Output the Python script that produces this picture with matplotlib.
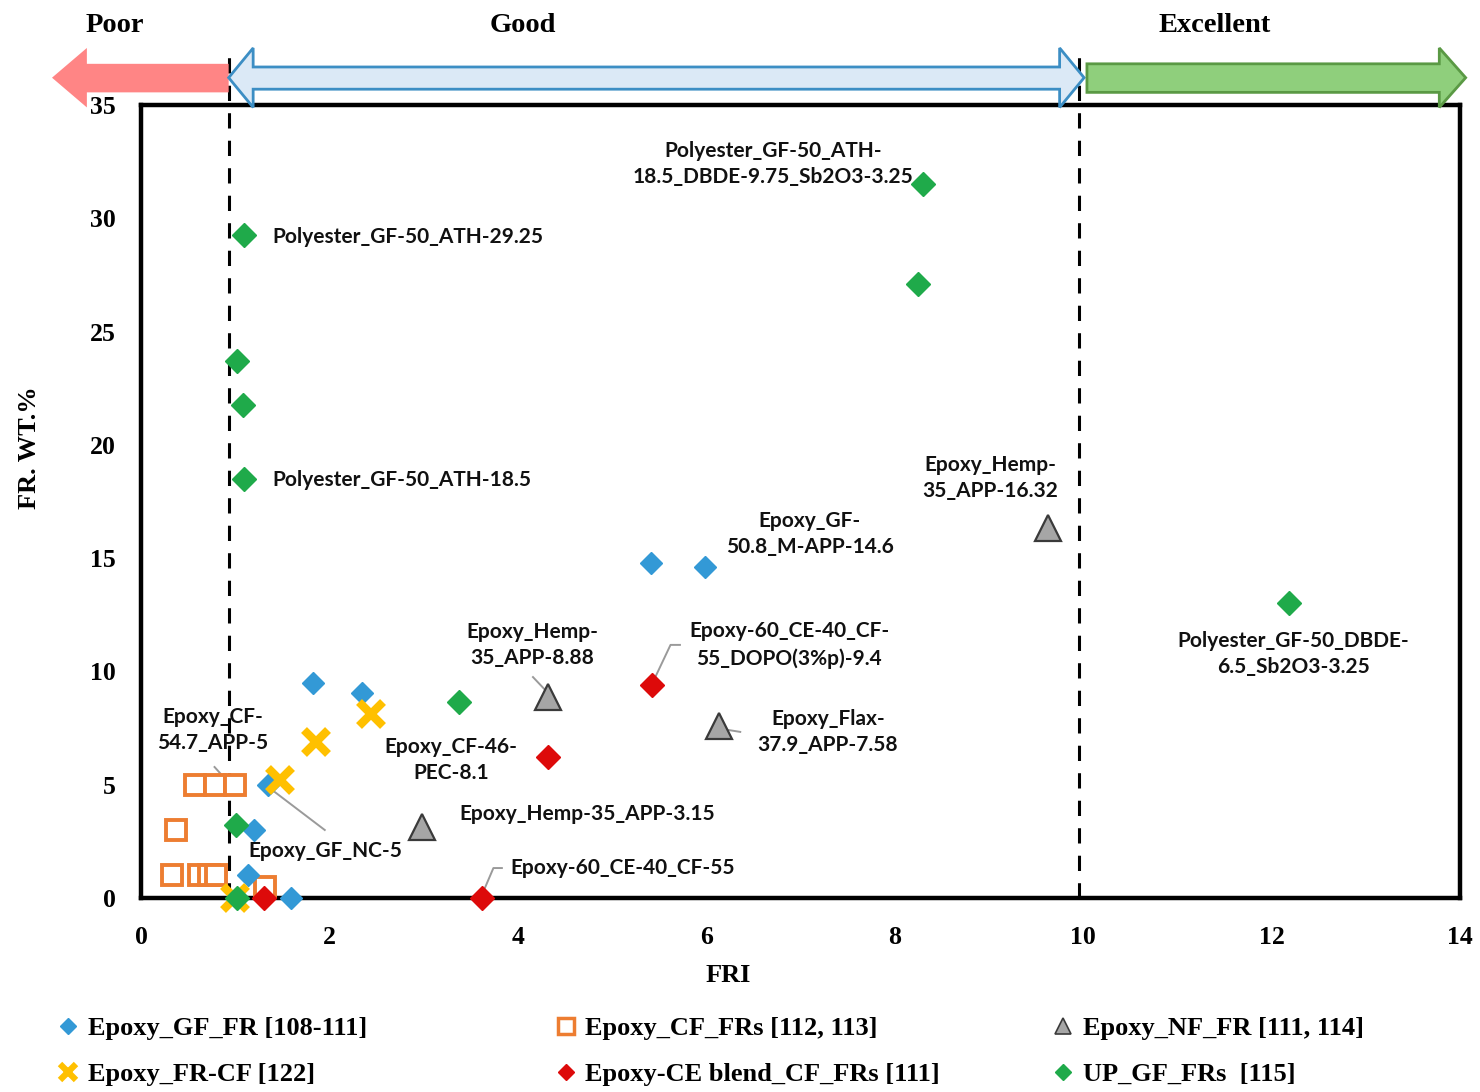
import matplotlib
matplotlib.use("Agg")
import matplotlib.pyplot as plt
from matplotlib.lines import Line2D
from matplotlib.patches import Polygon
import matplotlib.transforms as mtransforms

# ---------------- data ----------------
gf_fr_x = [5.41, 5.99, 1.83, 2.35, 1.35, 1.20, 1.14, 1.59]
gf_fr_y = [14.8, 14.6, 9.5, 9.05, 5.0, 3.0, 1.0, 0.0]

cf_frs_x = [0.57, 0.79, 1.00, 0.37, 0.33, 0.62, 0.72, 0.80, 1.32]
cf_frs_y = [5.0, 5.0, 5.0, 3.0, 1.0, 1.0, 1.0, 1.0, 0.5]

nf_fr_x = [9.63, 4.32, 6.13, 2.98]
nf_fr_y = [16.32, 8.88, 7.58, 3.15]

fr_cf_x = [2.44, 1.86, 1.47, 1.00]
fr_cf_y = [8.1, 6.9, 5.2, 0.0]

ce_x = [5.42, 4.32, 3.62, 1.30]
ce_y = [9.4, 6.2, 0.0, 0.0]

up_x = [8.30, 8.25, 1.09, 1.02, 1.08, 1.09, 12.18, 3.37, 1.01, 1.02]
up_y = [31.5, 27.1, 29.25, 23.7, 21.75, 18.5, 13.0, 8.65, 3.2, 0.0]

series_labels = ["Epoxy_GF_FR [108-111]", "Epoxy_CF_FRs [112, 113]", "Epoxy_NF_FR [111, 114]",
                 "Epoxy_FR-CF [122]", "Epoxy-CE blend_CF_FRs [111]", "UP_GF_FRs  [115]"]

x_ticks = [0, 2, 4, 6, 8, 10, 12, 14]
y_ticks = [0, 5, 10, 15, 20, 25, 30, 35]
zone_labels = ["Poor", "Good", "Excellent"]
zone_bounds = [0.93, 9.96]

# ---------------- style ----------------
BLUE = "#3399d6"
ORANGE = "#ed7d31"
GRAY = "#a6a6a6"
YELLOW = "#ffc000"
RED = "#dd0a0a"
GREEN = "#1faa4a"
SERIF = "Liberation Serif"
SANS = "Lato"

fig = plt.figure(figsize=(14.8, 10.92), dpi=100)
ax = fig.add_axes([0.0953, 0.1777, 0.8912, 0.7261])
ax.set_xlim(0, 14)
ax.set_ylim(0, 35)

for s in ax.spines.values():
    s.set_linewidth(3.2)
    s.set_color("black")

ax.set_xticks(x_ticks)
ax.set_yticks(y_ticks)
ax.tick_params(length=0)
for lab in ax.get_xticklabels() + ax.get_yticklabels():
    lab.set_fontfamily(SERIF)
    lab.set_fontweight("bold")
    lab.set_fontsize(18.5)
ax.tick_params(axis="x", pad=20)
ax.tick_params(axis="y", pad=18)

ax.set_xlabel("FRI", fontfamily=SERIF, fontweight="bold", fontsize=19)
ax.xaxis.set_label_coords(0.445, -0.083)
ax.set_ylabel("FR. WT.%", fontfamily=SERIF, fontweight="bold", fontsize=19)
ax.yaxis.set_label_coords(-0.076, 0.568)

# ---------------- data series ----------------
ax.plot(cf_frs_x, cf_frs_y, ls="none", marker="s", ms=14, mfc="white", mec=ORANGE, mew=2.8,
        clip_on=False, zorder=3)
ax.plot(gf_fr_x, gf_fr_y, ls="none", marker="D", ms=11.5, color=BLUE, clip_on=False, zorder=4)
ax.plot(fr_cf_x, fr_cf_y, ls="none", marker="x", ms=17, mew=6, color=YELLOW, clip_on=False, zorder=5)
ax.plot(nf_fr_x, nf_fr_y, ls="none", marker="^", ms=19, mfc=GRAY, mec="#3a3a3a", mew=1.6,
        clip_on=False, zorder=5)
ax.plot(ce_x, ce_y, ls="none", marker="D", ms=12, color=RED, clip_on=False, zorder=6)
ax.plot(up_x, up_y, ls="none", marker="D", ms=12, color=GREEN, clip_on=False, zorder=7)

# ---------------- zone boundaries and arrows ----------------
for xb in zone_bounds:
    ax.axvline(xb, ymin=0, ymax=1.06, color="black", ls=(0, (5, 4)), lw=2.2, clip_on=False, zorder=2)

trans = mtransforms.blended_transform_factory(ax.transData, ax.transAxes)
y_body_lo, y_body_hi = 1.016, 1.052
y_head_lo, y_head_hi = 0.997, 1.072

def arrow_poly(x0, x1, head, left=False, right=False, b_lo=y_body_lo, b_hi=y_body_hi):
    pts = []
    if left:
        pts += [(x0, (y_head_lo + y_head_hi) / 2), (x0 + head, y_head_hi), (x0 + head, b_hi)]
    else:
        pts += [(x0, b_hi)]
    if right:
        pts += [(x1 - head, b_hi), (x1 - head, y_head_hi), (x1, (y_head_lo + y_head_hi) / 2),
                (x1 - head, y_head_lo), (x1 - head, b_lo)]
    else:
        pts += [(x1, b_hi), (x1, b_lo)]
    if left:
        pts += [(x0 + head, b_lo), (x0 + head, y_head_lo)]
    else:
        pts += [(x0, b_lo)]
    return pts

# Poor (left arrow)
ax.add_patch(Polygon(arrow_poly(-0.945, zone_bounds[0], 0.37, left=True), closed=True,
                     transform=trans, clip_on=False, fc="#ff8585", ec="none", zorder=3))
# Good (double arrow)
ax.add_patch(Polygon(arrow_poly(zone_bounds[0], zone_bounds[1] + 0.05, 0.26, left=True, right=True,
                                b_lo=1.020, b_hi=1.048),
                     closed=True, transform=trans, clip_on=False, fc="#dbe9f6", ec="#3c8ec4",
                     lw=2.0, zorder=3))
# Excellent (right arrow)
ax.add_patch(Polygon(arrow_poly(zone_bounds[1] + 0.08, 14.06, 0.28, right=True), closed=True,
                     transform=trans, clip_on=False, fc="#8fcf7c", ec="#5a9944", lw=2.0, zorder=3))

zone_text_x = [-0.28, 4.05, 11.4]
for lab, xt in zip(zone_labels, zone_text_x):
    ax.text(xt, 1.10, lab, transform=trans, ha="center", va="center",
            fontfamily=SERIF, fontweight="bold", fontsize=20.5)

# ---------------- annotations ----------------
afont = dict(fontfamily=SANS, fontweight="bold", fontsize=15, color="#111111", linespacing=1.4)
ann = [
    ("Polyester_GF-50_ATH-\n18.5_DBDE-9.75_Sb2O3-3.25", 6.71, 32.4, "center"),
    ("Polyester_GF-50_ATH-29.25", 1.39, 29.17, "left"),
    ("Polyester_GF-50_ATH-18.5", 1.39, 18.45, "left"),
    ("Epoxy_Hemp-\n35_APP-16.32", 9.01, 18.53, "center"),
    ("Epoxy_GF-\n50.8_M-APP-14.6", 7.10, 16.06, "center"),
    ("Epoxy_Hemp-\n35_APP-8.88", 4.15, 11.17, "center"),
    ("Epoxy-60_CE-40_CF-\n55_DOPO(3%p)-9.4", 6.88, 11.17, "center"),
    ("Polyester_GF-50_DBDE-\n6.5_Sb2O3-3.25", 12.23, 10.77, "center"),
    ("Epoxy_CF-\n54.7_APP-5", 0.76, 7.41, "center"),
    ("Epoxy_CF-46-\nPEC-8.1", 3.29, 6.09, "center"),
    ("Epoxy_Flax-\n37.9_APP-7.58", 7.29, 7.33, "center"),
    ("Epoxy_Hemp-35_APP-3.15", 3.38, 3.71, "left"),
    ("Epoxy_GF_NC-5", 1.14, 2.07, "left"),
    ("Epoxy-60_CE-40_CF-55", 3.92, 1.32, "left"),
]
for txt, xt, yt, ha in ann:
    ax.text(xt, yt, txt, ha=ha, va="center", multialignment="center", zorder=8, **afont)

leaders = [
    ([0.78, 0.95], [5.78, 5.0]),
    ([1.95, 1.39], [3.0, 4.77]),
    ([3.83, 3.74, 3.62], [1.32, 1.32, 0.15]),
    ([5.72, 5.62, 5.43], [11.17, 11.17, 9.5]),
    ([4.16, 4.29], [9.75, 9.18]),
    ([6.36, 6.24], [7.33, 7.41]),
]
for lx, ly in leaders:
    ax.plot(lx, ly, color="#9a9a9a", lw=1.4, zorder=2, clip_on=False)

# ---------------- legend ----------------
h_gf = Line2D([], [], ls="none", marker="D", ms=8, color=BLUE)
h_cf = Line2D([], [], ls="none", marker="s", ms=11, mfc="white", mec=ORANGE, mew=2.5)
h_nf = Line2D([], [], ls="none", marker="^", ms=12, mfc=GRAY, mec="#3a3a3a", mew=1.2)
h_frcf = Line2D([], [], ls="none", marker="x", ms=11, mew=4.5, color=YELLOW)
h_ce = Line2D([], [], ls="none", marker="D", ms=8, color=RED)
h_up = Line2D([], [], ls="none", marker="D", ms=8, color=GREEN)

lfont = dict(family=SERIF, weight="bold", size=19)
cols = [([h_gf, h_frcf], [series_labels[0], series_labels[3]], 0.039),
        ([h_cf, h_ce], [series_labels[1], series_labels[4]], 0.375),
        ([h_nf, h_up], [series_labels[2], series_labels[5]], 0.711)]
for hs, ls_, xl in cols:
    fig.legend(hs, ls_, loc="center left", bbox_to_anchor=(xl, 0.0375), frameon=False, prop=lfont,
               handlelength=0.8, handletextpad=0.35, labelspacing=0.85, borderaxespad=0,
               borderpad=0)

fig.savefig("out.png", dpi=100)
